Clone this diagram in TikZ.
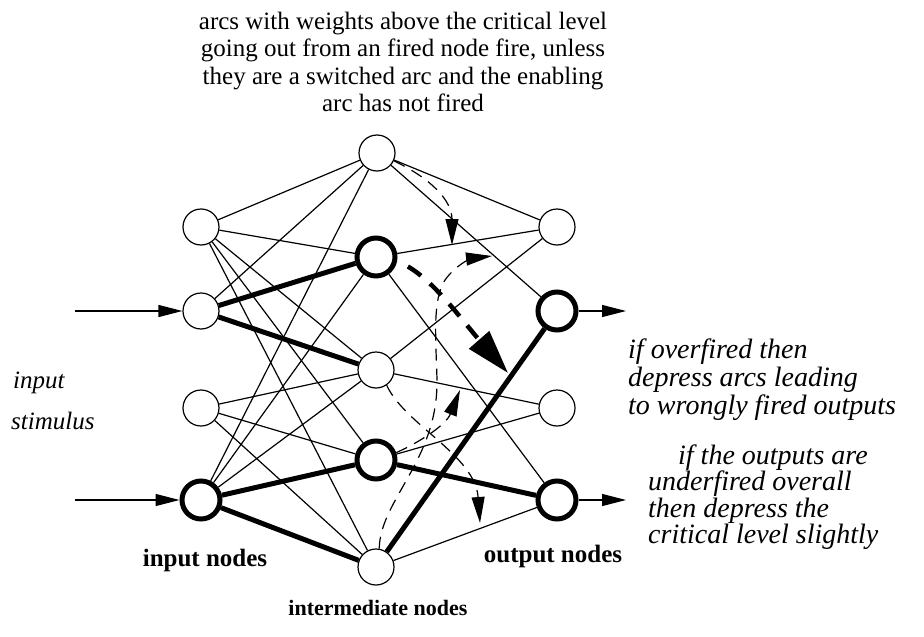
\documentclass[tikz,border=0pt]{standalone}
\usepackage{fontspec}
\setmainfont{Liberation Serif}
\usetikzlibrary{arrows.meta}
\tikzset{unit/.style={circle,draw,fill=white,line width=1.2pt,minimum size=36pt,inner sep=0pt},
         hotunit/.style={unit,line width=5pt,minimum size=38pt},
         link/.style={line width=1.2pt},
         hotlink/.style={line width=5pt},
         feed/.style={line width=1.2pt,-{Triangle[length=24pt,width=12pt]}},
         flow/.style={line width=1.2pt,dash pattern=on 12pt off 8pt,-{Triangle[length=26pt,width=13pt]}},
         bigflow/.style={line width=4.5pt,dash pattern=on 16pt off 12pt,dash phase=16pt,-{Triangle[length=44pt,width=26pt]}},
         note/.style={font=\fontsize{28}{28}\selectfont\itshape,align=left,anchor=west,inner sep=0pt},
         tag/.style={font=\fontsize{25}{28}\selectfont\bfseries,inner sep=0pt}}

\begin{document}
\begin{tikzpicture}[x=1pt,y=-1pt]
\useasboundingbox (0,0) rectangle (924,637);
\node[unit] (in1) at (201,227) {};
\node[unit] (in2) at (201,311) {};
\node[unit] (in3) at (201,408) {};
\node[hotunit] (in4) at (201,500) {};
\node[unit] (mid1) at (377,153) {};
\node[hotunit] (mid2) at (376,257) {};
\node[unit] (mid3) at (376,370) {};
\node[hotunit] (mid4) at (376,460) {};
\node[unit] (mid5) at (376,567) {};
\node[unit] (out1) at (557,227) {};
\node[hotunit] (out2) at (557,311) {};
\node[unit] (out3) at (557,408) {};
\node[hotunit] (out4) at (557,500) {};
\foreach \a/\b in {in1/mid1,in1/mid2,in1/mid3,in1/mid4,in1/mid5,in2/mid1,in3/mid3,in3/mid4,in3/mid5,
                   in4/mid1,in4/mid2,in4/mid3,mid1/out1,mid1/out2,mid2/out1,mid2/out4,mid3/out1,mid3/out3,
                   mid4/out3,mid5/out4}
  \draw[link] (\a) -- (\b);
\foreach \a/\b in {in2/mid2,in2/mid3,in4/mid4,in4/mid5,mid4/out4,mid5/out2}
  \draw[hotlink] (\a) -- (\b);
\coordinate (src2) at (75,311);
\coordinate (src4) at (75,500);
\coordinate (dst2) at (626,311);
\coordinate (dst4) at (626,500);
\draw[feed] (src2) -- (in2);
\draw[feed] (src4) -- (in4);
\draw[feed] (out2) -- (dst2);
\draw[feed] (out4) -- (dst4);
\coordinate (tipa) at (452,245);
\coordinate (tipb) at (508,373);
\coordinate (tipc) at (492,256);
\coordinate (tipd) at (460,390);
\coordinate (tipe) at (480,523);
\draw[flow] (mid1.-25) .. controls (430,178) and (452,200) .. (tipa);
\draw[bigflow] (mid2.-12) .. controls (428,272) and (460,318) .. (tipb);
\draw[flow] (mid5.80) .. controls (380,500) and (438,460) .. (437,380)
  .. controls (436,340) and (432,300) .. (445,280) .. controls (458,262) and (475,258) .. (tipc);
\draw[flow] (mid4.20) .. controls (420,442) and (446,425) .. (tipd);
\draw[flow] (mid3.-55) .. controls (405,425) and (475,455) .. (tipe);
\node[font=\fontsize{25}{27.5}\selectfont,align=center] (rule) at (403,62)
  {arcs with weights above the critical level\\going out from an fired node fire, unless\\they are a switched arc and the enabling\\arc has not fired};
\node[tag] (inlabel) at (205,560) {input nodes};
\node[tag] (outlabel) at (553,556) {output nodes};
\node[tag,font=\fontsize{22}{26}\selectfont\bfseries] (midlabel) at (378,608) {intermediate nodes};
\node[note,font=\fontsize{25}{28}\selectfont\itshape] (stimone) at (13,383) {input};
\node[note,font=\fontsize{25}{28}\selectfont\itshape] (stimtwo) at (11,421) {stimulus};
\node[note] (overnote) at (628,380) {if overfired then\\depress arcs leading\\to wrongly fired outputs};
\node[note,font=\fontsize{28}{25}\selectfont\itshape] (undernote) at (648,497)
  {\hspace*{30pt}if the outputs are\\underfired overall\\then depress the\\critical level slightly};
\end{tikzpicture}
\end{document}
